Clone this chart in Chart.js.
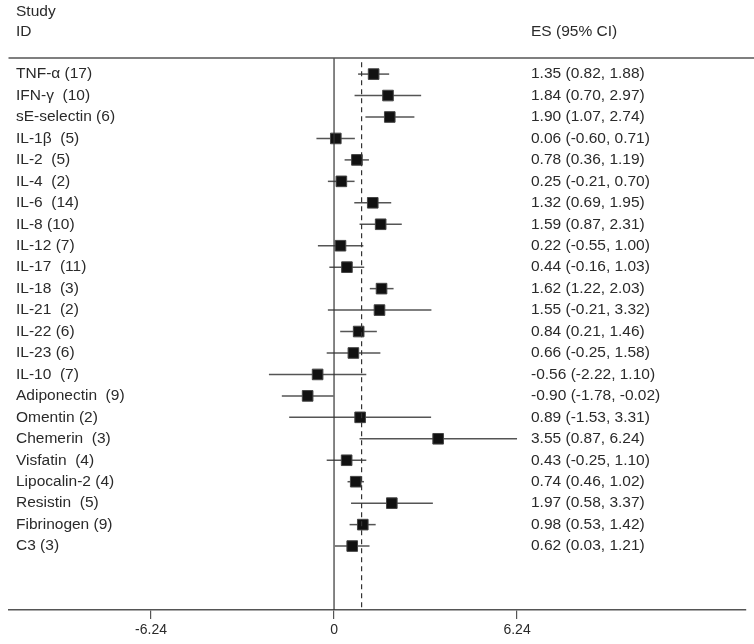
<!DOCTYPE html>
<html>
<head>
<meta charset="utf-8">
<script src="https://cdn.jsdelivr.net/npm/chart.js@4"></script>
<style>
  body { margin: 0; background: #fff; }
  #wrap { width: 754px; height: 644px; position: relative; }
</style>
</head>
<body>
<div id="wrap"><canvas id="forest"></canvas></div>
<script>
// study labels (number of studies in brackets)
const studies = [
    "TNF-α (17)", "IFN-γ  (10)", "sE-selectin (6)", "IL-1β  (5)", "IL-2  (5)", "IL-4  (2)",
    "IL-6  (14)", "IL-8 (10)", "IL-12 (7)", "IL-17  (11)", "IL-18  (3)", "IL-21  (2)",
    "IL-22 (6)", "IL-23 (6)", "IL-10  (7)", "Adiponectin  (9)", "Omentin (2)", "Chemerin  (3)",
    "Visfatin  (4)", "Lipocalin-2 (4)", "Resistin  (5)", "Fibrinogen (9)", "C3 (3)"
];
const es = [1.35, 1.84, 1.90, 0.06, 0.78, 0.25, 1.32, 1.59, 0.22, 0.44, 1.62, 1.55,
            0.84, 0.66, -0.56, -0.90, 0.89, 3.55, 0.43, 0.74, 1.97, 0.98, 0.62];
const ciLow = [0.82, 0.70, 1.07, -0.60, 0.36, -0.21, 0.69, 0.87, -0.55, -0.16, 1.22, -0.21,
               0.21, -0.25, -2.22, -1.78, -1.53, 0.87, -0.25, 0.46, 0.58, 0.53, 0.03];
const ciHigh = [1.88, 2.97, 2.74, 0.71, 1.19, 0.70, 1.95, 2.31, 1.00, 1.03, 2.03, 3.32,
                1.46, 1.58, 1.10, -0.02, 3.31, 6.24, 1.10, 1.02, 3.37, 1.42, 1.21];
const tickValues = [-6.24, 0, 6.24];
const overallES = 0.94;

const FONT = "Liberation Sans, Arial, sans-serif";
const yMin = -0.75, yMax = 24.98;

function fmt(v) { return v.toFixed(2); }

// CI whiskers + text columns, placed with the chart's own scales
const forestText = {
    id: "forestText",
    beforeDatasetsDraw(chart) {
        const { ctx, scales: { x, y } } = chart;
        ctx.save();
        ctx.strokeStyle = "#555";
        ctx.lineWidth = 1.5;
        studies.forEach((s, i) => {
            const py = y.getPixelForValue(i);
            ctx.beginPath();
            ctx.moveTo(x.getPixelForValue(ciLow[i]), py);
            ctx.lineTo(x.getPixelForValue(ciHigh[i]), py);
            ctx.stroke();
        });
        ctx.restore();
    },
    afterDraw(chart) {
        const { ctx, chartArea, scales: { y } } = chart;
        ctx.save();
        ctx.fillStyle = "#2a2a2a";
        ctx.font = "15.5px " + FONT;
        ctx.textBaseline = "middle";
        ctx.textAlign = "left";
        ctx.fillText("Study", 16, 12);
        ctx.fillText("ID", 16, 32);
        ctx.fillText("ES (95% CI)", 531, 32);
        studies.forEach((s, i) => {
            const py = y.getPixelForValue(i);
            ctx.fillText(s, 16, py);
            ctx.fillText(fmt(es[i]) + " (" + fmt(ciLow[i]) + ", " + fmt(ciHigh[i]) + ")", 531, py);
        });
        // top rule
        ctx.strokeStyle = "#555";
        ctx.lineWidth = 1.5;
        ctx.beginPath();
        ctx.moveTo(chartArea.left, chartArea.top);
        ctx.lineTo(754, chartArea.top);
        ctx.stroke();
        ctx.restore();
    }
};

new Chart(document.getElementById("forest"), {
    type: "scatter",
    data: {
        datasets: [
            {
                // null line
                type: "line",
                data: [{ x: 0, y: yMin }, { x: 0, y: yMax }],
                borderColor: "#333",
                borderWidth: 1.2,
                pointRadius: 0
            },
            {
                // overall effect
                type: "line",
                data: [{ x: overallES, y: -0.55 }, { x: overallES, y: yMax }],
                borderColor: "#333",
                borderWidth: 1.2,
                borderDash: [5, 4],
                pointRadius: 0
            },
            {
                data: es.map((v, i) => ({ x: v, y: i })),
                pointStyle: "rect",
                pointRadius: 7.5,
                pointBackgroundColor: "#111",
                pointBorderColor: "#444",
                pointBorderWidth: 1
            }
        ]
    },
    options: {
        responsive: true,
        maintainAspectRatio: false,
        animation: false,
        layout: { padding: { left: 5, right: 4, top: 58, bottom: 0 } },
        plugins: { legend: { display: false }, tooltip: { enabled: false } },
        scales: {
            x: {
                type: "linear",
                min: -11.1,
                max: 14.03,
                afterBuildTicks(scale) {
                    scale.ticks = tickValues.map(v => ({ value: v }));
                },
                afterFit(scale) { scale.height = 34; },
                border: { display: true, color: "#555", width: 1.5 },
                grid: { drawOnChartArea: false, tickLength: 9, color: "#555", lineWidth: 1.2 },
                ticks: {
                    color: "#2a2a2a",
                    font: { family: FONT, size: 14 },
                    padding: 3,
                    maxRotation: 0,
                    callback: v => v === 0 ? "0" : v.toFixed(2)
                }
            },
            y: {
                type: "linear",
                reverse: true,
                min: yMin,
                max: yMax,
                display: false
            }
        }
    },
    plugins: [forestText]
});
</script>
</body>
</html>
